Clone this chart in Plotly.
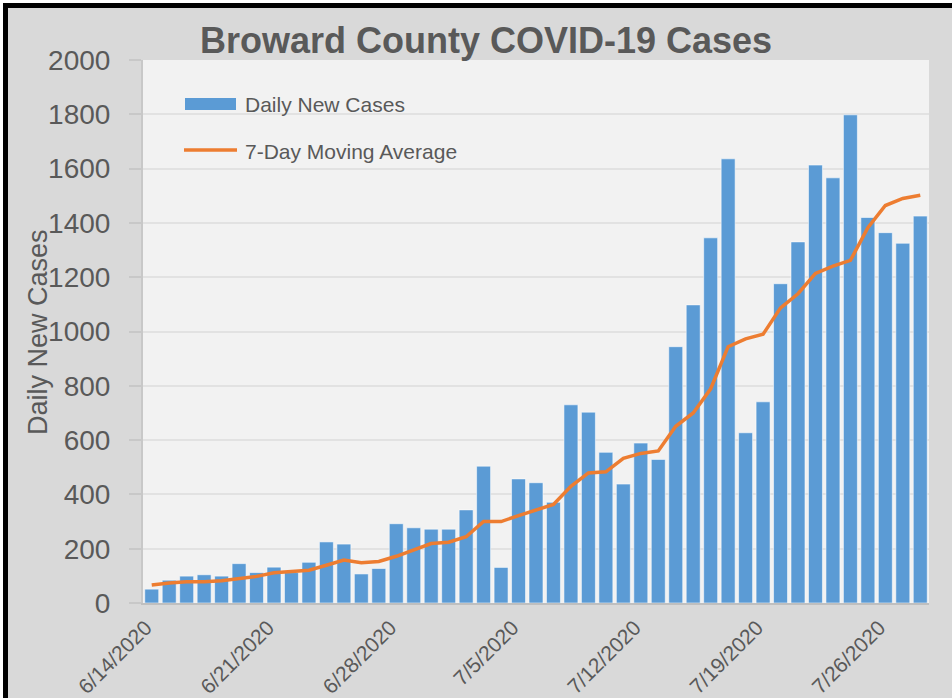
import pandas as pd
import plotly.graph_objects as go

# ---- data ----
dates = pd.date_range("2020-06-14", periods=45, freq="D")
daily_new_cases = [51, 84, 99, 104, 99, 145, 112, 132, 112, 150,
                   225, 217, 107, 127, 292, 277, 272, 272, 343, 504,
                   131, 457, 443, 371, 730, 703, 555, 438, 589, 529,
                   944, 1098, 1345, 1636, 627, 741, 1176, 1330, 1613, 1566,
                   1798, 1420, 1364, 1325, 1425]
moving_avg_7day = [66, 74, 78, 78, 82, 90, 98, 111, 116, 121,
                   139, 158, 148, 153, 172, 196, 219, 224, 244, 300,
                   300, 322, 344, 363, 430, 479, 483, 533, 551, 560,
                   651, 700, 789, 944, 973, 990, 1087, 1139, 1214, 1241,
                   1262, 1382, 1464, 1490, 1502]
x_tick_dates = ["2020-06-14", "2020-06-21", "2020-06-28", "2020-07-05",
                "2020-07-12", "2020-07-19", "2020-07-26"]
x_tick_labels = ["6/14/2020", "6/21/2020", "6/28/2020", "7/5/2020",
                 "7/12/2020", "7/19/2020", "7/26/2020"]
y_tick_vals = list(range(0, 2001, 200))

# ---- geometry helpers (pixel -> paper) ----
W, H = 952, 698
L, R, T, B = 143, 23, 60, 95
PW, PH = W - L - R, H - T - B
def px(x):
    return (x - L) / PW
def py(y):
    return (H - B - y) / PH

FONT = "Liberation Sans, Arial, sans-serif"
GREY_TXT = "#595959"
BLUE = "#5b9bd5"
ORANGE = "#ed7d31"

fig = go.Figure()
fig.add_trace(go.Bar(
    x=dates, y=daily_new_cases, name="Daily New Cases",
    marker=dict(color=BLUE, line=dict(color="rgba(255,255,255,0.55)", width=1)),
    showlegend=False,
))
fig.add_trace(go.Scatter(
    x=dates, y=moving_avg_7day, name="7-Day Moving Average", mode="lines",
    line=dict(color=ORANGE, width=3.5), showlegend=False,
))

# manual legend
shapes = [
    dict(type="rect", xref="paper", yref="paper",
         x0=px(185), x1=px(236), y0=py(110), y1=py(98),
         fillcolor=BLUE, line=dict(width=0)),
    dict(type="line", xref="paper", yref="paper",
         x0=px(184), x1=px(237), y0=py(150), y1=py(150),
         line=dict(color=ORANGE, width=3.5)),
    # frame border (top & left)
    dict(type="rect", xref="paper", yref="paper",
         x0=px(0), x1=px(W), y0=py(0), y1=py(3),
         fillcolor="white", line=dict(width=0), layer="above"),
    dict(type="rect", xref="paper", yref="paper",
         x0=px(0), x1=px(3), y0=py(0), y1=py(H),
         fillcolor="white", line=dict(width=0), layer="above"),
    dict(type="rect", xref="paper", yref="paper",
         x0=px(3), x1=px(W), y0=py(3), y1=py(8),
         fillcolor="black", line=dict(width=0), layer="above"),
    dict(type="rect", xref="paper", yref="paper",
         x0=px(3), x1=px(8), y0=py(3), y1=py(H),
         fillcolor="black", line=dict(width=0), layer="above"),
]
annotations = [
    dict(text="Daily New Cases", xref="paper", yref="paper",
         x=px(243), y=py(104), xanchor="left", yanchor="middle",
         showarrow=False, font=dict(family=FONT, size=21, color=GREY_TXT)),
    dict(text="7-Day Moving Average", xref="paper", yref="paper",
         x=px(243), y=py(151), xanchor="left", yanchor="middle",
         showarrow=False, font=dict(family=FONT, size=21, color=GREY_TXT)),
    dict(text="Daily New Cases", xref="paper", yref="paper",
         x=px(38), y=py(332), xanchor="center", yanchor="middle",
         textangle=-90, showarrow=False,
         font=dict(family=FONT, size=27, color=GREY_TXT)),
]

fig.update_layout(
    width=W, height=H,
    margin=dict(l=L, r=R, t=T, b=B, autoexpand=False),
    paper_bgcolor="#d9d9d9",
    plot_bgcolor="#f2f2f2",
    bargap=0.2,
    title=dict(text="<b>Broward County COVID-19 Cases</b>",
               x=486 / W, xanchor="center", xref="container",
               y=1 - 40 / H, yanchor="middle", yref="container",
               font=dict(family=FONT, size=36, color=GREY_TXT)),
    shapes=shapes,
    annotations=annotations,
    font=dict(family=FONT, color=GREY_TXT),
)
fig.update_xaxes(
    type="date",
    range=["2020-06-13 12:00", "2020-07-28 12:00"],
    tickvals=x_tick_dates, ticktext=x_tick_labels,
    tickangle=-45, tickfont=dict(family=FONT, size=21, color=GREY_TXT),
    showgrid=False, showline=True, linecolor="#bfbfbf", linewidth=2,
    ticks="", ticklabelshift=-6, ticklabelstandoff=2,
)
fig.update_yaxes(
    range=[0, 2000], tickvals=y_tick_vals,
    tickfont=dict(family=FONT, size=28, color=GREY_TXT),
    showgrid=True, gridcolor="#e2e2e2", gridwidth=1.5,
    zeroline=False, showline=True, linecolor="#c8c8c8", linewidth=2,
    ticks="outside", ticklen=12, tickcolor="#c8c8c8", tickwidth=2,
    ticklabelstandoff=13,
)

fig.write_html("out.html",
               config={"displayModeBar": False},
               post_script="document.body.style.margin='0px';"
                           "document.body.style.overflow='hidden';")
